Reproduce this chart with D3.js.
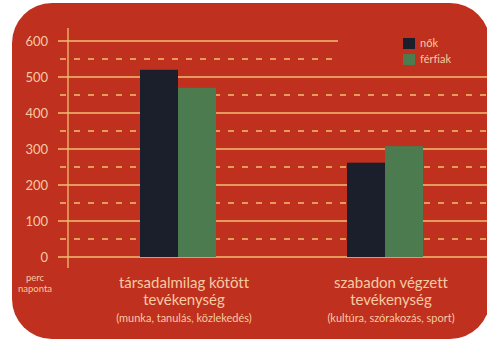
<!DOCTYPE html>
<html>
<head>
<meta charset="utf-8">
<script src="https://cdn.jsdelivr.net/npm/d3@7"></script>
<style>
  body { margin: 0; background: #fff; }
  svg text { font-family: Lato, "Open Sans", sans-serif; fill: #f5caa2; font-variant-ligatures: none; }
</style>
</head>
<body>
<script>
const categories = ["társadalmilag kötött", "szabadon végzett"];
const labelLine2 = ["tevékenység", "tevékenység"];
const labelLine3 = ["(munka, tanulás, közlekedés)", "(kultúra, szórakozás, sport)"];
const series = ["nők", "férfiak"];
const nokValues = [520, 262];
const ferfiakValues = [470, 308];
const tickValues = [0, 100, 200, 300, 400, 500, 600];
const halfTicks = [50, 150, 250, 350, 450, 550];

const width = 487, height = 342;
const colors = { "nők": "#1b1f2b", "férfiak": "#4b7b4f" };
const lineColor = "#f0be72";

const svg = d3.select("body").append("svg")
    .attr("width", width)
    .attr("height", height);

// red board
svg.append("rect")
    .attr("x", 12).attr("y", 3)
    .attr("width", 478).attr("height", 336)
    .attr("rx", 40).attr("ry", 40)
    .attr("fill", "#c0301e");

const yScale = d3.scaleLinear()
    .domain([0, 600])
    .range([257, 41]);

const xScale = d3.scaleBand()
    .domain(categories)
    .range([140, 423])
    .paddingInner(0.633);

const xInner = d3.scaleBand()
    .domain(series)
    .range([0, xScale.bandwidth()]);

// grid lines
svg.selectAll("line.solid")
    .data(tickValues)
    .enter().append("line")
    .attr("class", "solid")
    .attr("x1", 58)
    .attr("x2", d => d === 600 ? 338 : 487)
    .attr("y1", d => yScale(d))
    .attr("y2", d => yScale(d))
    .attr("stroke", lineColor)
    .attr("stroke-width", 1.3);

svg.selectAll("line.dashed")
    .data(halfTicks)
    .enter().append("line")
    .attr("class", "dashed")
    .attr("x1", 60)
    .attr("x2", d => d === 550 ? 338 : 487)
    .attr("y1", d => yScale(d))
    .attr("y2", d => yScale(d))
    .attr("stroke", lineColor)
    .attr("stroke-width", 1.3)
    .attr("stroke-dasharray", "6,8");

// vertical axis line
svg.append("line")
    .attr("x1", 68).attr("x2", 68)
    .attr("y1", 28).attr("y2", 268)
    .attr("stroke", lineColor)
    .attr("stroke-width", 1.3);

// tick labels
svg.selectAll("text.tick")
    .data(tickValues)
    .enter().append("text")
    .attr("class", "tick")
    .attr("x", 48)
    .attr("y", d => yScale(d) + 4.5)
    .attr("text-anchor", "end")
    .attr("font-size", 13)
    .text(d => d);

// bars
const groups = svg.selectAll("g.group")
    .data(categories.map((c, i) => ({ cat: c, vals: [nokValues[i], ferfiakValues[i]] })))
    .enter().append("g")
    .attr("class", "group")
    .attr("transform", d => "translate(" + xScale(d.cat) + ",0)");

groups.selectAll("rect")
    .data(d => d.vals.map((v, j) => ({ key: series[j], value: v })))
    .enter().append("rect")
    .attr("x", d => xInner(d.key))
    .attr("y", d => yScale(d.value))
    .attr("width", xInner.bandwidth())
    .attr("height", d => yScale(0) - yScale(d.value))
    .attr("fill", d => colors[d.key]);

// category labels
categories.forEach((c, i) => {
    const cx = xScale(c) + xScale.bandwidth() / 2 + 6;
    svg.append("text").attr("x", cx).attr("y", 288)
        .attr("text-anchor", "middle").attr("font-size", 15).text(c);
    svg.append("text").attr("x", cx).attr("y", 305)
        .attr("text-anchor", "middle").attr("font-size", 15).text(labelLine2[i]);
    svg.append("text").attr("x", cx).attr("y", 322)
        .attr("text-anchor", "middle").attr("font-size", 11).text(labelLine3[i]);
});

// unit label
svg.append("text").attr("x", 35).attr("y", 281)
    .attr("text-anchor", "middle").attr("font-size", 9.5).text("perc");
svg.append("text").attr("x", 35).attr("y", 292)
    .attr("text-anchor", "middle").attr("font-size", 9.5).text("naponta");

// legend
const legend = svg.selectAll("g.legend")
    .data(series)
    .enter().append("g")
    .attr("class", "legend")
    .attr("transform", (d, i) => "translate(403," + (38 + i * 16) + ")");

legend.append("rect")
    .attr("width", 12).attr("height", 11)
    .attr("fill", d => colors[d]);

legend.append("text")
    .attr("x", 17).attr("y", 9)
    .attr("font-size", 11)
    .text(d => d);
</script>
</body>
</html>
